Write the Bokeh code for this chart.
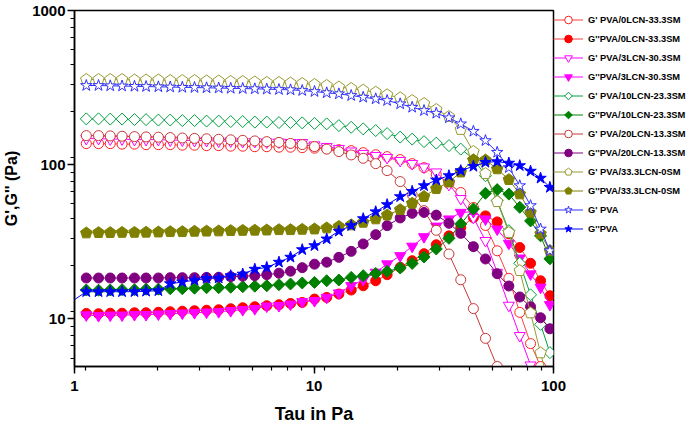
import math
from bokeh.plotting import figure
from bokeh.models import Range1d, LogTicker, PrintfTickFormatter, Legend, LegendItem
from bokeh.embed import file_html
from bokeh.resources import INLINE

# shear stress (Pa)
tau = [1.12, 1.26, 1.41, 1.58, 1.78, 1.99, 2.24, 2.51, 2.82, 3.17,
       3.56, 4.00, 4.49, 5.04, 5.66, 6.35, 7.14, 7.98, 8.93, 10.05,
       11.3, 12.7, 14.3, 16.05, 18.1, 20.2, 22.9, 25.7, 28.8, 32.4,
       36.6, 41.0, 46.3, 52.0, 58.2, 65.1, 72.3, 80.2, 88.3, 96.6]
tau_pva = [0.985] + tau

g1_0lcn = [136.8, 136.8, 136.8, 135.8, 135.8, 134.7, 134.7, 134.7, 133.7, 133.7,
           132.7, 132.7, 131.7, 131.7, 130.7, 130.7, 129.7, 129.7, 128.8, 127.8,
           126.8, 125.0, 123.2, 119.6, 116.0, 112.7, 107.8, 101.5, 95.6, 86.2,
           75.3, 65.9, 52.7, 40.3, 27.6, 18.3, 11.0, 6.9, 4.9, 3.0]
g2_0lcn = [10.83, 10.78, 10.86, 10.86, 10.94, 10.94, 11.02, 11.1, 11.19, 11.27,
           11.36, 11.44, 11.61, 11.79, 11.97, 12.15, 12.33, 12.57, 12.76, 13.42,
           13.75, 14.47, 15.35, 16.37, 17.64, 19.31, 21.55, 23.8, 26.43, 30.2,
           34.5, 39.06, 45.3, 46.5, 42.5, 35.6, 29.0, 22.9, 17.64, 14.1]
g1_3lcn = [147.5, 147.5, 146.4, 146.4, 145.3, 145.3, 145.3, 144.2, 144.2, 143.1,
           143.1, 142.1, 142.1, 141.0, 141.0, 139.9, 139.9, 138.9, 138.9, 133.9,
           130.9, 127.0, 122.3, 117.9, 114.4, 111.0, 106.2, 101.5, 96.3, 89.4,
           74.2, 60.1, 45.3, 32.1, 19.95, 12.2, 7.76, 5.0, 3.3, 2.2]
g2_3lcn = [10.57, 10.46, 10.54, 10.54, 10.62, 10.62, 10.70, 10.78, 10.86, 10.94,
           11.02, 11.10, 11.27, 11.44, 11.61, 12.06, 12.15, 12.42, 12.89, 13.09,
           13.75, 14.68, 16.37, 17.9, 19.99, 22.65, 25.6, 29.5, 34.0, 39.8,
           44.3, 48.9, 49.5, 44.3, 38.1, 30.8, 24.7, 19.5, 16.0, 12.33]
g1_10lcn = [198.1, 198.1, 197.5, 197.5, 196.0, 196.0, 194.6, 194.6, 193.1, 193.1,
            191.7, 191.7, 190.3, 190.3, 188.8, 188.8, 187.4, 187.4, 186.6, 185.2,
            183.8, 179.2, 174.7, 170.6, 166.3, 159.0, 150.9, 146.4, 141.0, 137.9,
            132.9, 126.1, 109.4, 84.8, 58.4, 37.3, 22.9, 14.3, 9.2, 6.03]
g2_10lcn = [15.36, 15.32, 15.36, 15.43, 15.43, 15.55, 15.55, 15.66, 15.66, 15.78,
            15.9, 15.9, 16.02, 16.14, 16.26, 16.37, 16.63, 16.81, 17.06, 17.21,
            17.64, 17.84, 18.55, 19.03, 19.69, 20.29, 21.35, 22.86, 25.17, 28.37,
            33.24, 41.23, 51.6, 65.16, 68.86, 64.39, 52.85, 43.12, 34.5, 24.5]
g1_20lcn = [154.3, 154.3, 153.6, 152.9, 152.0, 151.3, 150.7, 149.8, 148.9, 148.0,
            147.1, 146.0, 144.9, 143.8, 142.5, 141.0, 139.4, 137.3, 134.9, 130.9,
            126.1, 121.5, 115.6, 109.9, 101.5, 91.4, 77.6, 63.8, 50.3, 37.5,
            26.3, 17.9, 11.64, 7.46, 4.9, 3.0]
g2_20lcn = [18.38, 18.38, 18.38, 18.38, 18.38, 18.38, 18.38, 18.47, 18.47, 18.47,
            18.55, 18.6, 18.74, 18.88, 19.03, 19.31, 19.75, 20.35, 21.45, 22.6,
            23.28, 25.02, 27.37, 30.57, 35.13, 40.19, 45.1, 48.31, 48.95, 47.03,
            41.6, 35.82, 29.36, 24.42, 19.6, 16.31, 13.84, 11.97, 10.15, 8.61]
g1_33lcn = [356.6, 356.6, 356.6, 356.6, 354.0, 354.0, 354.0, 351.3, 351.3, 351.3,
            348.7, 348.7, 346.1, 346.1, 343.5, 341.0, 341.0, 338.4, 335.9, 330.9,
            326.0, 318.7, 311.7, 303.9, 294.9, 283.7, 271.2, 260.5, 249.0, 227.7,
            205.0, 168.8, 121.5, 87.4, 57.5, 36.2, 20.5, 10.9, 6.0, 3.5]
g2_33lcn = [36.0, 36.2, 36.2, 36.3, 36.3, 36.4, 36.5, 36.7, 36.7, 36.9,
            37.0, 37.1, 37.3, 37.4, 37.5, 37.6, 37.8, 37.8, 38.0, 38.2,
            38.8, 39.7, 40.6, 42.2, 44.4, 47.1, 51.0, 56.1, 62.0, 69.8,
            77.0, 89.4, 107.4, 107.0, 93.8, 79.9, 64.5, 49.0, 35.6, 27.6]
g1_pva = [326.0, 326.0, 324.5, 323.6, 322.1, 321.1, 319.7, 318.7, 317.3, 316.4,
          315.0, 314.0, 312.6, 311.7, 310.3, 308.9, 307.1, 305.7, 302.5, 298.0,
          292.3, 287.9, 280.7, 273.7, 267.2, 260.5, 247.9, 235.6, 224.3, 215.5,
          201.1, 183.8, 164.6, 143.1, 120.2, 95.6, 73.0, 54.2, 38.2, 27.6]
g2_pva = [13.1, 14.98, 14.98, 14.98, 14.98, 14.98, 15.09, 15.2, 16.88, 17.32, 17.79,
          18.27, 18.38, 19.03, 19.5, 20.97, 21.54, 23.28, 25.09, 28.07, 29.8,
          32.94, 37.0, 40.19, 44.6, 49.47, 55.0, 62.0, 67.1, 73.0, 79.5,
          84.8, 91.4, 97.5, 103.5, 104.6, 102.3, 98.5, 90.7, 81.7, 71.2]

labels = ["G' PVA/0LCN-33.3SM", "G''PVA/0LCN-33.3SM",
          "G' PVA/3LCN-30.3SM", "G''PVA/3LCN-30.3SM",
          "G' PVA/10LCN-23.3SM", "G''PVA/10LCN-23.3SM",
          "G' PVA/20LCN-13.3SM", "G''PVA/20LCN-13.3SM",
          "G' PVA/33.3LCN-0SM", "G''PVA/33.3LCN-0SM",
          "G' PVA", "G''PVA"]

FONT = "Liberation Sans"

p = figure(x_axis_type="log", y_axis_type="log",
           x_range=Range1d(1, 100), y_range=Range1d(4.9, 1000),
           frame_width=479, frame_height=356,
           min_border_left=69, min_border_right=136,
           min_border_top=10, min_border_bottom=59,
           output_backend="svg", toolbar_location=None)
p.xgrid.visible = False
p.ygrid.visible = False
p.outline_line_color = "black"
p.outline_line_width = 1.5
p.background_fill_color = "white"
p.border_fill_color = "white"

for ax in (p.xaxis[0], p.yaxis[0]):
    ax.ticker = LogTicker(num_minor_ticks=9)
    ax.formatter = PrintfTickFormatter(format="%d")
    ax.axis_line_width = 1.5
    ax.axis_line_color = "black"
    ax.major_tick_line_width = 1.5
    ax.minor_tick_line_width = 1.2
    ax.major_tick_out = 7
    ax.major_tick_in = 0
    ax.minor_tick_out = 4
    ax.minor_tick_in = 0
    ax.major_label_text_font = FONT
    ax.major_label_text_font_style = "bold"
    ax.major_label_text_font_size = "15px"
    ax.major_label_text_color = "black"
    ax.axis_label_text_font = FONT
    ax.axis_label_text_font_style = "bold"
    ax.axis_label_text_color = "black"

p.xaxis.axis_label = "Tau in Pa"
p.xaxis.axis_label_text_font_size = "18px"
p.xaxis.major_label_standoff = 7
p.xaxis.axis_label_standoff = 10
p.yaxis.axis_label = "G',G'' (Pa)"
p.yaxis.axis_label_text_font_size = "16px"
p.yaxis.major_label_standoff = 2
p.yaxis.axis_label_standoff = 9

items = []


def add(label, xs, ys, color, marker, filled, size, mxs=None, mys=None, lcolor=None):
    lc = lcolor or color
    lr = p.line(xs, ys, line_color=lc, line_width=1)
    fc = color if filled else "white"
    mx = mxs if mxs is not None else xs
    my = mys if mys is not None else ys
    if marker == "pentagon":
        mr = p.ngon(mx, my, radius=size, radius_units="screen", n=5,
                    angle=0, line_color=color, fill_color=fc, line_width=1)
    elif marker == "diamond":
        mr = p.ngon(mx, my, radius=size, radius_units="screen", n=4,
                    angle=0, line_color=color, fill_color=fc, line_width=1)
    else:
        mr = p.scatter(mx, my, marker=marker, size=size,
                       line_color=color, fill_color=fc, line_width=1)
    items.append(LegendItem(label=label, renderers=[lr, mr]))


add(labels[0], tau, g1_0lcn, "#FF2020", "circle", False, 10, lcolor="#FF4040")
add(labels[1], tau, g2_0lcn, "#FF0000", "circle", True, 10, lcolor="#FF4040")
add(labels[2], tau, g1_3lcn, "#FF00FF", "inverted_triangle", False, 11)
add(labels[3], tau, g2_3lcn, "#FF00FF", "inverted_triangle", True, 11)
add(labels[4], tau, g1_10lcn, "#00A040", "diamond", False, 6)
add(labels[5], tau, g2_10lcn, "#008000", "diamond", True, 6)
add(labels[6], tau[:len(g1_20lcn)], g1_20lcn, "#C83737", "circle", False, 10)
add(labels[7], tau, g2_20lcn, "#800080", "circle", True, 10)
add(labels[8], tau, g1_33lcn, "#999933", "pentagon", False, 6)
add(labels[9], tau, g2_33lcn, "#808000", "pentagon", True, 6)
add(labels[10], tau, g1_pva, "#3030FF", "star", False, 12)
add(labels[11], tau_pva, g2_pva, "#0000FF", "star", True, 12,
    mxs=tau_pva[1:], mys=g2_pva[1:])

legend = Legend(items=items, location="top_left",
                margin=0, padding=1, spacing=0,
                glyph_width=30, glyph_height=19, label_height=19,
                label_standoff=5,
                label_text_font=FONT, label_text_font_style="bold",
                label_text_font_size="9.3px", label_text_color="black",
                border_line_color=None, background_fill_alpha=0)
p.add_layout(legend, "right")

open("out.html", "w").write(file_html(p, INLINE))
